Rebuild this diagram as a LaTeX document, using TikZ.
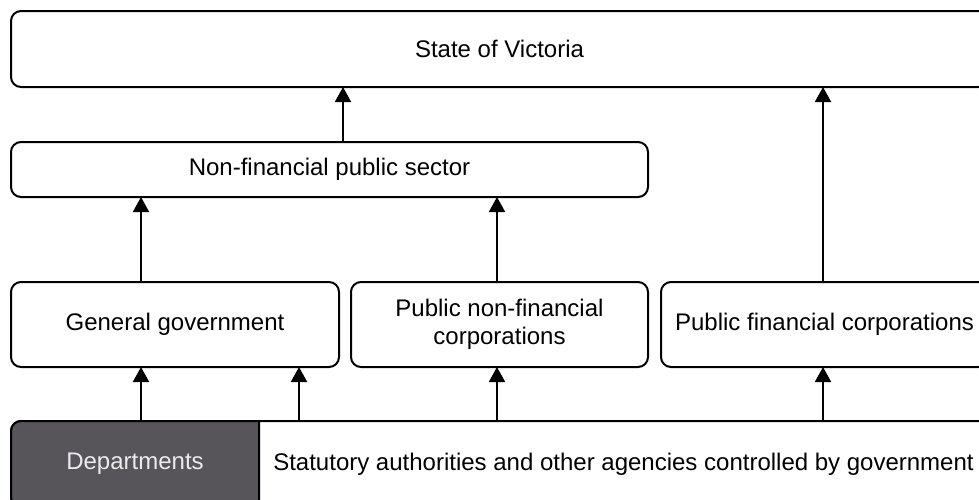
\documentclass[tikz,border=0pt]{standalone}
\usepackage{fontspec}
\setmainfont{Liberation Sans}
\usetikzlibrary{arrows.meta,calc}
\definecolor{dept}{RGB}{87,84,90}
\begin{document}
\begin{tikzpicture}[x=1pt,y=-1pt,
  txt/.style={inner sep=0pt, align=center, font=\fontsize{24}{27.5}\selectfont},
  box/.style={txt, draw=black, line width=2pt, rounded corners=10pt, outer sep=0pt, anchor=north west},
  arr/.style={line width=2pt, -{Triangle[width=16pt,length=15pt]}}]
\useasboundingbox (0,0) rectangle (979,499);
\begin{scope}
\clip (0,0) rectangle (979,499);
\node[box, minimum width=977pt, minimum height=76pt] (sv) at (11,11) {State of Victoria};
\node[box, minimum width=637pt, minimum height=55pt] (nfps) at (11,142) {Non-financial public sector};
\node[box, minimum width=328pt, minimum height=85pt] (gg) at (11,282) {General government};
\node[box, minimum width=297pt, minimum height=85pt] (pnfc) at (351,282) {Public non-financial\\corporations};
\node[box, minimum width=327pt, minimum height=85pt] (pfc) at (661,282) {Public financial corporations};
% bottom band
\node[box, minimum width=977pt, minimum height=86pt] (bot) at (11,421) {};
\filldraw[fill=dept, draw=black, line width=2pt] (259,507) [rounded corners=10pt] -- (11,507) -- (11,421) [sharp corners] -- (259,421) -- cycle;
\node[txt, text=white!92!black] (dep) at (135,464) {Departments};
\node[txt] (stat) at (623.5,464) {Statutory authorities and other agencies controlled by government};
% arrow x positions
\coordinate (a1) at (141,0);
\coordinate (a2) at (299,0);
\coordinate (a3) at (497,0);
\coordinate (a4) at (823,0);
\coordinate (a5) at (343,0);
\draw[arr] (a1 |- bot.north) -- (a1 |- gg.south);
\draw[arr] (a2 |- bot.north) -- (a2 |- gg.south);
\draw[arr] (a3 |- bot.north) -- (a3 |- pnfc.south);
\draw[arr] (a4 |- bot.north) -- (a4 |- pfc.south);
\draw[arr] (a1 |- gg.north) -- (a1 |- nfps.south);
\draw[arr] (a3 |- pnfc.north) -- (a3 |- nfps.south);
\draw[arr] (a5 |- nfps.north) -- (a5 |- sv.south);
\draw[arr] (a4 |- pfc.north) -- (a4 |- sv.south);
\end{scope}
\end{tikzpicture}
\end{document}
